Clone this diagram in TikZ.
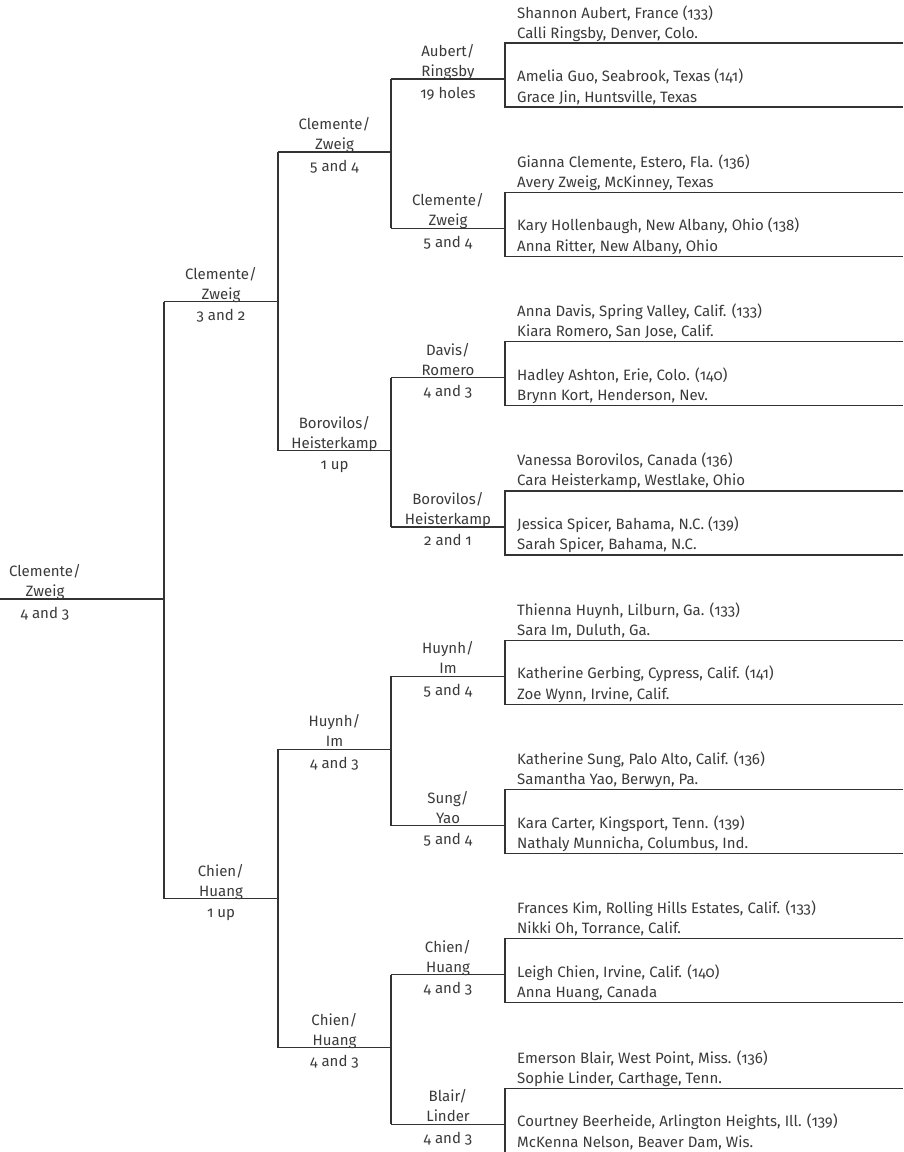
\documentclass[tikz,border=0pt]{standalone}
\usepackage{fontspec}
\setmainfont{Fira Sans}[Numbers=OldStyle]
\definecolor{ink}{HTML}{333333}
\definecolor{tink}{HTML}{3A3A3A}
\tikzset{
  txt/.style={font=\fontsize{15}{18}\selectfont, inner sep=0pt, text=tink},
  player/.style={txt, anchor=base west},
  winner/.style={txt, anchor=base},
  bline/.style={draw=ink, line width=1.2pt}
}
% #1 index, #2-#5 players, #6 #7 winner lines, #8 score
\newcommand\bmatch[8]{%
  \pgfmathsetmacro\bb{18+149.3*#1}%
  \pgfmathsetmacro\mm{\bb+61}%
  \node[player] (pa#1) at (517,\bb) {#2};
  \node[player] (pb#1) at (517,\bb+20) {#3};
  \node[player] (pc#1) at (517,\bb+63.5) {#4};
  \node[player] (pd#1) at (517,\bb+84) {#5};
  \coordinate (tr#1) at (903,\bb+25);
  \coordinate (tl#1) at (505,\bb+25);
  \coordinate (bl#1) at (505,\bb+89);
  \coordinate (br#1) at (903,\bb+89);
  \coordinate (m#1) at (505,\mm);
  \coordinate (v#1) at (391,\mm);
  \draw[bline] (tr#1) -- (tl#1) -- (bl#1) -- (br#1);
  \draw[bline] (v#1) -- (m#1);
  \node[winner] (wa#1) at (448,\mm-22.5) {#6};
  \node[winner] (wb#1) at (448,\mm-2.5) {#7};
  \node[winner] (ws#1) at (448,\mm+19) {#8};
}
% #1 name, #2 y, #3 left x, #4 right x, #5 label x, #6 #7 label, #8 score
\newcommand\bround[8]{%
  \coordinate (r#1) at (#4,#2);
  \coordinate (l#1) at (#3,#2);
  \draw[bline] (l#1) -- (r#1);
  \node[winner] (na#1) at (#5,#2-22.5) {#6};
  \node[winner] (nb#1) at (#5,#2-2.5) {#7};
  \node[winner] (ns#1) at (#5,#2+19) {#8};
}
\begin{document}
\begin{tikzpicture}[x=1pt,y=-1pt]
\useasboundingbox (0,0) rectangle (903,1152);
\clip (0,0) rectangle (903,1152);
\bmatch{0}{Shannon Aubert, France (133)}{Calli Ringsby, Denver, Colo.}{Amelia Guo, Seabrook, Texas (141)}{Grace Jin, Huntsville, Texas}{Aubert/}{Ringsby}{19 holes}
\bmatch{1}{Gianna Clemente, Estero, Fla. (136)}{Avery Zweig, McKinney, Texas}{Kary Hollenbaugh, New Albany, Ohio (138)}{Anna Ritter, New Albany, Ohio}{Clemente/}{Zweig}{5 and 4}
\bmatch{2}{Anna Davis, Spring Valley, Calif. (133)}{Kiara Romero, San Jose, Calif.}{Hadley Ashton, Erie, Colo. (140)}{Brynn Kort, Henderson, Nev.}{Davis/}{Romero}{4 and 3}
\bmatch{3}{Vanessa Borovilos, Canada (136)}{Cara Heisterkamp, Westlake, Ohio}{Jessica Spicer, Bahama, N.C. (139)}{Sarah Spicer, Bahama, N.C.}{Borovilos/}{Heisterkamp}{2 and 1}
\bmatch{4}{Thienna Huynh, Lilburn, Ga. (133)}{Sara Im, Duluth, Ga.}{Katherine Gerbing, Cypress, Calif. (141)}{Zoe Wynn, Irvine, Calif.}{Huynh/}{Im}{5 and 4}
\bmatch{5}{Katherine Sung, Palo Alto, Calif. (136)}{Samantha Yao, Berwyn, Pa.}{Kara Carter, Kingsport, Tenn. (139)}{Nathaly Munnicha, Columbus, Ind.}{Sung/}{Yao}{5 and 4}
\bmatch{6}{Frances Kim, Rolling Hills Estates, Calif. (133)}{Nikki Oh, Torrance, Calif.}{Leigh Chien, Irvine, Calif. (140)}{Anna Huang, Canada}{Chien/}{Huang}{4 and 3}
\bmatch{7}{Emerson Blair, West Point, Miss. (136)}{Sophie Linder, Carthage, Tenn.}{Courtney Beerheide, Arlington Heights, Ill. (139)}{McKenna Nelson, Beaver Dam, Wis.}{Blair/}{Linder}{4 and 3}
% round 2
\bround{s0}{152}{278}{391}{334.5}{Clemente/}{Zweig}{5 and 4}
\bround{s1}{450.6}{278}{391}{334.5}{Borovilos/}{Heisterkamp}{1 up}
\bround{s2}{749.2}{278}{391}{334.5}{Huynh/}{Im}{4 and 3}
\bround{s3}{1047.8}{278}{391}{334.5}{Chien/}{Huang}{4 and 3}
\draw[bline] (v0) -- (v1);
\draw[bline] (v2) -- (v3);
\draw[bline] (v4) -- (v5);
\draw[bline] (v6) -- (v7);
% round 3
\bround{t0}{301.5}{164}{278}{221}{Clemente/}{Zweig}{3 and 2}
\bround{t1}{898.5}{164}{278}{221}{Chien/}{Huang}{1 up}
\draw[bline] (ls0) -- (ls1);
\draw[bline] (ls2) -- (ls3);
% final
\bround{f}{599}{0}{164}{45}{Clemente/}{Zweig}{4 and 3}
\draw[bline] (lt0) -- (lt1);
\end{tikzpicture}
\end{document}
